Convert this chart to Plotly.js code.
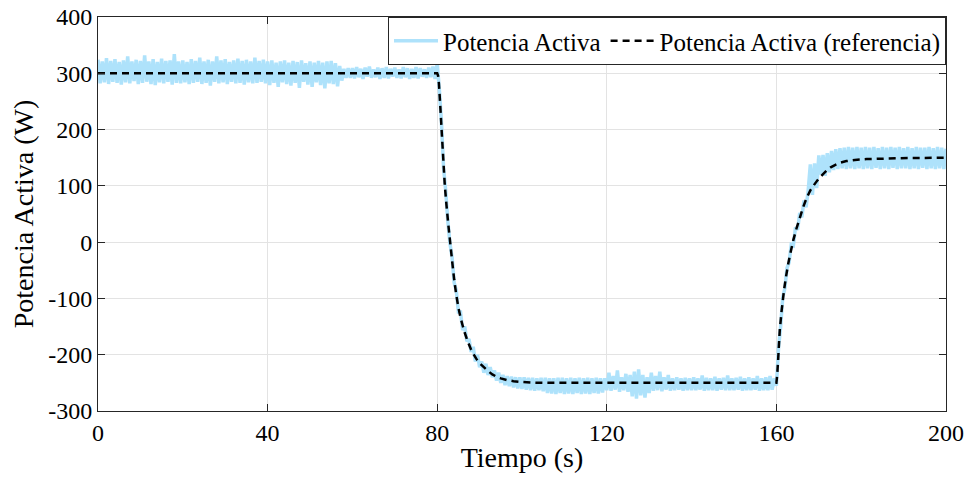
<!DOCTYPE html>
<html>
<head>
<meta charset="utf-8">
<script src="https://cdn.plot.ly/plotly-3.0.1.min.js"></script>
<style>
html,body{margin:0;padding:0;background:#fff;}
#chart{width:972px;height:485px;}
</style>
</head>
<body>
<div id="chart"></div>
<script>
// ---- Data ----
// Measured active power, sampled every 0.5 s, in three stretches
const measStep = 0.5;
const measStart1 = 0;      // t = 0 .. 80
const measPower1 = [
  324,282,321,284,327,281,322,285,325,283,
  320,280,323,284,330,282,321,286,324,281,
  322,283,332,285,321,281,325,279,320,284,
  326,282,322,285,323,280,334,283,321,282,
  323,284,320,281,325,283,322,285,328,281,
  321,283,324,278,321,285,330,282,323,284,
  325,281,320,285,323,282,326,283,322,280,
  324,284,321,282,328,283,322,285,324,282,
  321,279,323,283,319,276,321,284,323,281,
  319,278,322,283,320,274,323,285,318,280,
  321,276,319,284,322,279,319,273,321,282,
  322,281,318,277,313,287,308,292,309,292,
  309,291,311,293,308,290,310,294,312,292,
  307,293,310,290,309,292,311,291,308,294,
  310,292,307,291,311,293,309,290,308,292,
  311,291,309,294,307,292,310,293,312,290,
  318
];
const measStart2 = 80.5;   // t = 80.5 .. 160
const measPower2 = [
  272,214,132,92,38,-2,-26,-72,-86,-124,
  -124,-156,-150,-176,-172,-195,-186,-212,-200,-222,
  -212,-232,-216,-236,-222,-240,-228,-246,-232,-250,
  -236,-254,-238,-256,-239,-258,-240,-260,-240,-261,
  -240,-262,-241,-263,-241,-264,-242,-263,-241,-265,
  -241,-268,-242,-269,-242,-270,-241,-268,-241,-270,
  -242,-269,-241,-270,-242,-268,-241,-270,-242,-269,
  -241,-270,-242,-268,-241,-269,-242,-267,-242,-263,
  -232,-264,-238,-262,-228,-266,-240,-263,-234,-266,
  -236,-274,-230,-278,-226,-272,-236,-276,-240,-268,
  -232,-264,-238,-263,-230,-265,-240,-262,-236,-264,
  -242,-263,-240,-262,-242,-264,-241,-263,-242,-263,
  -240,-263,-242,-262,-237,-264,-241,-263,-242,-263,
  -239,-264,-242,-262,-241,-263,-237,-263,-242,-263,
  -241,-262,-239,-264,-242,-263,-240,-263,-242,-262,
  -238,-264,-242,-263,-240,-263,-238,-262,-242,-255
];
const measStart3 = 160.5;  // t = 160.5 .. 200
const measPower3 = [
  -188,-150,-98,-82,-46,-36,-4,-6,26,22,
  52,44,74,62,92,138,84,140,96,154,
  120,155,118,158,124,162,128,165,130,167,
  131,168,130,169,131,168,130,169,131,168,
  130,169,131,168,130,169,132,167,130,169,
  131,168,130,169,132,168,130,169,131,167,
  131,169,130,167,131,169,130,168,132,168,
  130,169,131,167,130,169,131,168,130,166
];

// Reference active power
const refTime = [0,80,80.2,80.4,80.6,80.8,81,81.4,81.8,82.2,
  82.6,83,83.5,84,84.5,85,85.5,86,86.5,87,
  87.5,88,88.5,89.2,90,91,92,93,94,95,
  96.4,98,100,102.6,106,160,160.2,160.4,160.6,160.8,
  161.2,161.8,162.3,162.8,163.4,164,164.8,165.6,166.3,167.1,
  168,169.1,170,171,171.8,172.8,173.8,175,176.5,178.5,
  181.3,186,191.5,200];
const refPower = [300,300,296,282,258,232,205,152,100,65,
  33,4,-32,-66,-94,-116,-134,-148,-161,-172,
  -182,-191,-198,-207,-215,-222,-229,-235,-239,-242,
  -245,-247,-248.5,-249.5,-250,-250,-235,-210,-182,-156,
  -124,-85,-60,-38,-16,4,26,45,62,78,
  92,104,113,121,127,133,137,141,144,146,
  147.5,148.5,149.5,150];

const xTicks = [0,40,80,120,160,200];
const yTicks = [-300,-200,-100,0,100,200,300,400];
const seriesNames = ['Potencia Activa', 'Potencia Activa (referencia)'];

// ---- Build measured trace ----
const measX = [], measY = [];
[[measStart1, measPower1], [measStart2, measPower2], [measStart3, measPower3]].forEach(function (s) {
  s[1].forEach(function (v, i) { measX.push(s[0] + i * measStep); measY.push(v); });
});

const FONT = 'Liberation Serif, Times New Roman, serif';
const AX = '#262626';

const traces = [
  {
    x: measX, y: measY, type: 'scatter', mode: 'lines', name: seriesNames[0],
    line: {color: '#aee2fb', width: 3.5, simplify: false}
  },
  {
    x: refTime, y: refPower, type: 'scatter', mode: 'lines', name: seriesNames[1],
    line: {color: '#000000', width: 2.5, dash: '7px,5px', simplify: false}
  }
];

const layout = {
  width: 972, height: 485,
  margin: {l: 98, r: 26, t: 17, b: 74},
  paper_bgcolor: '#ffffff', plot_bgcolor: '#ffffff',
  font: {family: FONT, size: 22, color: '#000'},
  showlegend: true,
  legend: {
    x: 1, y: 1, xanchor: 'right', yanchor: 'top', orientation: 'h',
    bgcolor: '#ffffff', bordercolor: AX, borderwidth: 1,
    font: {family: FONT, size: 25, color: '#000'},
    itemwidth: 44, tracegroupgap: 0
  },
  xaxis: {
    range: [0, 200], tickvals: xTicks, ticktext: xTicks.map(String),
    ticks: 'inside', ticklen: 7, tickcolor: AX, tickwidth: 1,
    showline: true, linecolor: AX, linewidth: 1, mirror: 'ticks',
    showgrid: true, gridcolor: '#e3e3e3', gridwidth: 1, zeroline: false,
    tickfont: {family: FONT, size: 24, color: '#000'},
    title: {text: 'Tiempo (s)', font: {family: FONT, size: 28, color: '#000'}, standoff: 2}
  },
  yaxis: {
    range: [-300, 400], tickvals: yTicks, ticktext: yTicks.map(String),
    ticks: 'inside', ticklen: 7, tickcolor: AX, tickwidth: 1,
    showline: true, linecolor: AX, linewidth: 1, mirror: 'ticks',
    showgrid: true, gridcolor: '#e3e3e3', gridwidth: 1, zeroline: false,
    tickfont: {family: FONT, size: 24, color: '#000'},
    title: {text: 'Potencia Activa (W)', font: {family: FONT, size: 28, color: '#000'}, standoff: 6}
  }
};

Plotly.newPlot('chart', traces, layout, {displayModeBar: false, staticPlot: true});
</script>
</body>
</html>
